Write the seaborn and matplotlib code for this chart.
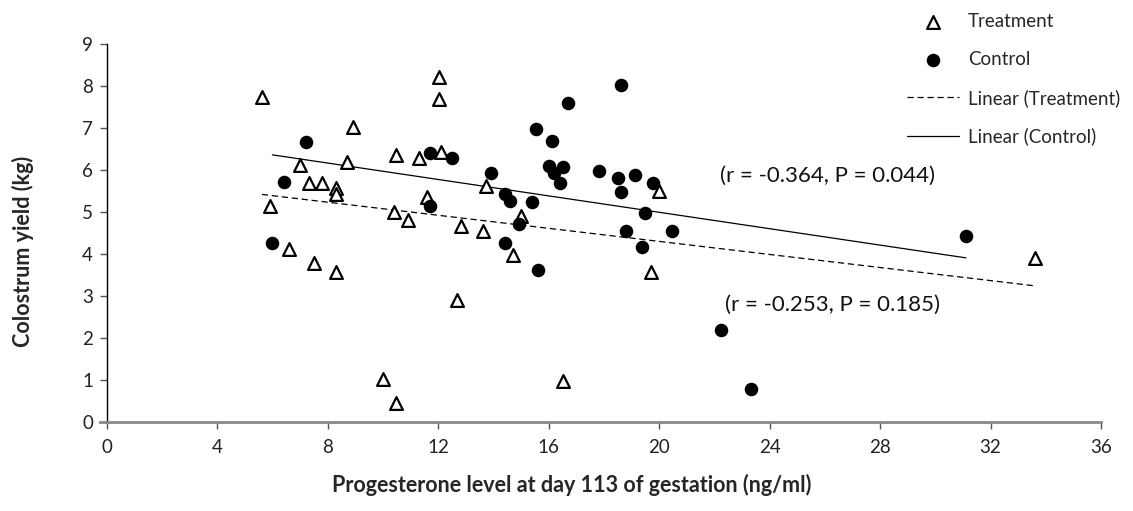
import numpy as np
import pandas as pd
import matplotlib
matplotlib.use("Agg")
import matplotlib.pyplot as plt
import seaborn as sns

# Data
treat_x = [5.61, 8.91, 6.98, 8.69, 10.48, 7.30, 7.80, 8.28, 8.28, 5.89, 10.38,
           6.59, 7.50, 8.28, 10.00, 10.46, 12.01, 12.01, 11.30, 12.09, 13.71,
           11.59, 10.90, 12.81, 13.60, 15.01, 14.71, 12.69, 16.50, 19.70, 20.00, 33.61]
treat_y = [7.75, 7.02, 6.12, 6.20, 6.35, 5.68, 5.70, 5.56, 5.43, 5.15, 5.00,
           4.13, 3.78, 3.56, 1.02, 0.46, 8.21, 7.69, 6.29, 6.42, 5.63,
           5.36, 4.81, 4.67, 4.55, 4.90, 3.98, 2.90, 0.98, 3.58, 5.51, 3.91]

ctrl_x = [7.22, 6.41, 5.99, 11.69, 12.51, 13.90, 11.69, 15.52, 16.10, 16.71, 18.61,
          16.01, 16.50, 16.18, 16.40, 17.81, 18.49, 19.12, 18.61, 19.78, 14.41,
          14.61, 15.41, 19.50, 14.92, 14.41, 15.61, 18.79, 19.39, 20.48, 31.11,
          22.22, 23.32]
ctrl_y = [6.67, 5.71, 4.27, 6.40, 6.29, 5.92, 5.14, 6.97, 6.69, 7.60, 8.02,
          6.10, 6.08, 5.94, 5.70, 5.98, 5.80, 5.88, 5.48, 5.70, 5.44,
          5.27, 5.23, 4.98, 4.71, 4.27, 3.62, 4.55, 4.17, 4.55, 4.44,
          2.19, 0.78]

x_ticks = [0, 4, 8, 12, 16, 20, 24, 28, 32, 36]
y_ticks = [0, 1, 2, 3, 4, 5, 6, 7, 8, 9]
annot_ctrl = "(r = -0.364, P = 0.044)"
annot_treat = "(r = -0.253, P = 0.185)"

sns.set_style("white")
plt.rcParams['font.family'] = ['Lato', 'DejaVu Sans']

df_t = pd.DataFrame({"x": treat_x, "y": treat_y})
df_c = pd.DataFrame({"x": ctrl_x, "y": ctrl_y})

fig = plt.figure(figsize=(11.33, 5.11), dpi=100)
ax = fig.add_axes([107 / 1133, 1 - 422 / 511, (1101 - 107) / 1133, (422 - 44) / 511])

sns.scatterplot(data=df_t, x="x", y="y", ax=ax, marker="^", s=85,
                facecolor="white", edgecolor="black", linewidth=1.6,
                label="Treatment", zorder=3, clip_on=False)
sns.scatterplot(data=df_c, x="x", y="y", ax=ax, marker="o", s=95,
                color="black", edgecolor="black", linewidth=0,
                label="Control", zorder=3, clip_on=False)
sns.regplot(data=df_t, x="x", y="y", ax=ax, scatter=False, ci=None, truncate=True,
            label="Linear (Treatment)",
            line_kws=dict(color="black", lw=0.9, ls=(0, (5, 3))))
sns.regplot(data=df_c, x="x", y="y", ax=ax, scatter=False, ci=None, truncate=True,
            label="Linear (Control)",
            line_kws=dict(color="black", lw=0.9, ls="-"))

ax.set_xlim(0, 36)
ax.set_ylim(0, 9)
ax.set_xticks(x_ticks)
ax.set_yticks(y_ticks)
ax.set_xticklabels([str(v) for v in x_ticks])
ax.set_yticklabels([str(v) for v in y_ticks])
for s in ["top", "right"]:
    ax.spines[s].set_visible(False)
ax.spines["left"].set_color("#000000")
ax.spines["left"].set_linewidth(1.0)
ax.spines["bottom"].set_color("#8a8a8a")
ax.spines["bottom"].set_linewidth(2.0)
ax.spines["bottom"].set_bounds(-0.25, 36)
ax.tick_params(axis="both", direction="out", length=5, width=1, color="#555555",
               labelsize=13.5, labelcolor="#222222", pad=5, bottom=True, left=True)
ax.tick_params(axis="x", pad=7)

ax.set_xlabel("Progesterone level at day 113 of gestation (ng/ml)", fontsize=15.5,
              fontweight="bold")
ax.set_ylabel("Colostrum yield (kg)", fontsize=15.5, fontweight="bold")
ax.xaxis.set_label_coords((572 - 107) / 994, -(474 - 422) / 378)
ax.yaxis.set_label_coords(-(107 - 34) / 994, (422 - 251) / 378)

ax.text(22.2, 5.86, annot_ctrl, fontsize=16, va="center", ha="left", color="#111111")
ax.text(22.4, 2.79, annot_treat, fontsize=16, va="center", ha="left", color="#111111")

h, l = ax.get_legend_handles_labels()
if ax.get_legend() is not None:
    ax.get_legend().remove()
order = ["Treatment", "Control", "Linear (Treatment)", "Linear (Control)"]
hm = dict(zip(l, h))
leg = fig.legend([hm[k] for k in order], order, loc="upper left",
                 bbox_to_anchor=(890 / 1133, 1.008), frameon=False, fontsize=13.5,
                 handlelength=2.8, labelspacing=1.12, handletextpad=0.45)

fig.savefig("out.png", dpi=100)
